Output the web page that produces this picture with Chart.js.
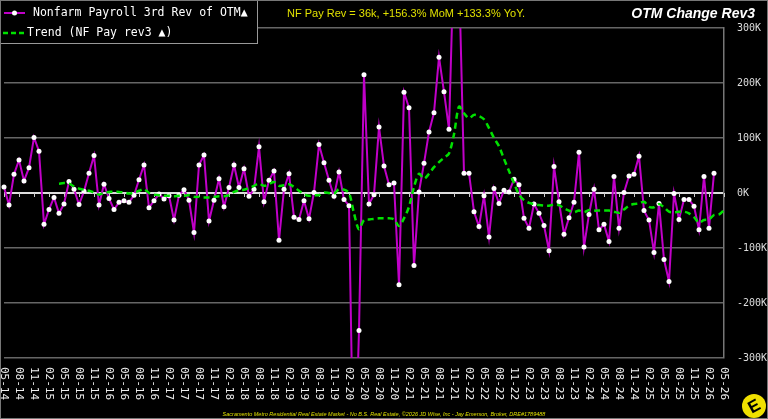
<!DOCTYPE html>
<html>
<head>
<meta charset="utf-8">
<title>OTM Change Rev3</title>
<script src="https://cdn.jsdelivr.net/npm/chart.js@4.4.1/dist/chart.umd.min.js"></script>
<style>
    html, body { margin: 0; padding: 0; background: #000; }
    canvas { display: block; }
</style>
</head>
<body>
<canvas id="otmChart" width="768" height="419"></canvas>
<script>
// Month categories (MM-YY)
const months = [
    '05-14','06-14','07-14','08-14','09-14','10-14','11-14','12-14',
    '01-15','02-15','03-15','04-15','05-15','06-15','07-15','08-15','09-15','10-15','11-15','12-15',
    '01-16','02-16','03-16','04-16','05-16','06-16','07-16','08-16','09-16','10-16','11-16','12-16',
    '01-17','02-17','03-17','04-17','05-17','06-17','07-17','08-17','09-17','10-17','11-17','12-17',
    '01-18','02-18','03-18','04-18','05-18','06-18','07-18','08-18','09-18','10-18','11-18','12-18',
    '01-19','02-19','03-19','04-19','05-19','06-19','07-19','08-19','09-19','10-19','11-19','12-19',
    '01-20','02-20','03-20','04-20','05-20','06-20','07-20','08-20','09-20','10-20','11-20','12-20',
    '01-21','02-21','03-21','04-21','05-21','06-21','07-21','08-21','09-21','10-21','11-21','12-21',
    '01-22','02-22','03-22','04-22','05-22','06-22','07-22','08-22','09-22','10-22','11-22','12-22',
    '01-23','02-23','03-23','04-23','05-23','06-23','07-23','08-23','09-23','10-23','11-23','12-23',
    '01-24','02-24','03-24','04-24','05-24','06-24','07-24','08-24','09-24','10-24','11-24','12-24',
    '01-25','02-25','03-25','04-25','05-25','06-25','07-25','08-25','09-25','10-25','11-25','12-25',
    '01-26','02-26','03-26','04-26','05-26'
];

// Nonfarm payroll 3rd revision of over-the-month change (K)
const payRev = [
    11, -22, 34, 60, 22, 46, 101, 76, -57, -30, -8, -37,
    -20, 21, 7, -21, 3, 36, 68, -22, 16, -10, -30, -17,
    -14, -17, -4, 24, 51, -27, -14, -2, -11, -5, -49, -4,
    6, -13, -72, 51, 69, -51, -13, 26, -25, 10, 51, 10,
    44, -6, 7, 84, -16, 23, 40, -86, 7, 35, -44, -48,
    -14, -47, 1, 88, 55, 23, -6, 38, -12, -23, -560, -250,
    215, -20, -3, 120, 49, 15, 18, -167, 183, 155, -132, 2,
    54, 111, 146, 247, 184, 116, 440, 400, 36, 36, -34, -61,
    -5, -80, 8, -19, 5, 2, 25, 15, -46, -64, -20, -37,
    -59, -105, 48, -16, -75, -45, -17, 74, -98, -39, 7, -67,
    -57, -88, 30, -64, 1, 31, 34, 67, -32, -49, -108, -19,
    -121, -161, -1, -48, -12, -12, -24, -67, 30, -64, 36
];

// Trend line (K)
const trend = [
    null, null, null, null, null, null, null, null, null, null, null, 17,
    18, 17, 12, 8, 6, 4, 1, -3, 0, 2, 2, 2,
    1, -1, 1, 4, 7, 0, -3, -4, -5, -5, -6, -5,
    -5, -4, -7, -7, -8, -8, -7, -6, -6, -4, 2, 5,
    6, 9, 13, 17, 13, 16, 20, 13, 14, 16, 11, 4,
    -2, -5, -4, -4, 1, 0, -1, 7, 6, 0, -37, -66,
    -49, -48, -47, -46, -46, -46, -48, -60, -46, -25, 11, 35,
    26, 35, 47, 56, 64, 72, 107, 157, 145, 136, 142, 140,
    134, 118, 100, 85, 62, 40, 18, -3, -13, -18, -20, -22,
    -23, -23, -21, -22, -28, -32, -35, -32, -35, -31, -32, -32,
    -32, -32, -34, -36, -30, -23, -20, -19, -16, -25, -26, -20,
    -26, -34, -35, -34, -34, -37, -44, -54, -49, -48, -40, -39,
    -31
];

const legendLabels = ['Nonfarm Payroll 3rd Rev of OTM\u25B2', 'Trend (NF Pay rev3 \u25B2)'];
const headline = 'NF Pay Rev = 36k, +156.3% MoM +133.3% YoY.';
const chartTitle = 'OTM Change Rev3';
const footer = 'Sacramento Metro Residential Real Estate Market - No B.S. Real Estate, \u00A92026 JD Wise, Inc - Jay Emerson, Broker, DRE#1789488';

const MAGENTA = '#c000c8';
const GREEN = '#00e000';
const YELLOW = '#e0e000';
const MONO = '"DejaVu Sans Mono", monospace';

// Background, tick marks, labels, legend and decorations
const decorations = {
    id: 'decorations',
    beforeDraw(chart) {
        const ctx = chart.ctx;
        ctx.save();
        ctx.fillStyle = '#000';
        ctx.fillRect(0, 0, chart.width, chart.height);
        ctx.restore();
    },
    beforeDatasetsDraw(chart) {
        // small tick marks under the zero line
        const ctx = chart.ctx;
        const xs = chart.scales.x;
        const y0 = chart.scales.y.getPixelForValue(0);
        ctx.save();
        ctx.strokeStyle = '#cccccc';
        ctx.lineWidth = 1;
        months.forEach(function(m, i) {
            if (i % 3 !== 0) return;
            const x = Math.round(xs.getPixelForValue(i)) + 0.5;
            ctx.beginPath();
            ctx.moveTo(x, y0);
            ctx.lineTo(x, y0 + 4);
            ctx.stroke();
        });
        ctx.restore();
    },
    afterDraw(chart) {
        const ctx = chart.ctx;
        const xs = chart.scales.x;
        const area = chart.chartArea;

        // x labels, rotated clockwise
        ctx.save();
        ctx.fillStyle = '#eeeeee';
        ctx.font = '11px ' + MONO;
        ctx.textAlign = 'left';
        ctx.textBaseline = 'middle';
        months.forEach(function(m, i) {
            if (i % 3 !== 0) return;
            ctx.save();
            ctx.translate(xs.getPixelForValue(i), area.bottom + 9);
            ctx.rotate(Math.PI / 2);
            ctx.fillText(m, 0, 0);
            ctx.restore();
        });
        ctx.restore();

        // legend box
        ctx.save();
        ctx.fillStyle = '#000';
        ctx.fillRect(0, 0, 257, 43);
        ctx.strokeStyle = '#999999';
        ctx.lineWidth = 1;
        ctx.strokeRect(0.5, 0.5, 257, 43);

        ctx.strokeStyle = MAGENTA;
        ctx.lineWidth = 2;
        ctx.beginPath();
        ctx.moveTo(4, 13);
        ctx.lineTo(25, 13);
        ctx.stroke();
        ctx.fillStyle = '#fff';
        ctx.beginPath();
        ctx.arc(14.5, 13, 2.5, 0, Math.PI * 2);
        ctx.fill();

        ctx.strokeStyle = GREEN;
        ctx.lineWidth = 2.5;
        ctx.setLineDash([5, 3]);
        ctx.beginPath();
        ctx.moveTo(3, 33);
        ctx.lineTo(26, 33);
        ctx.stroke();
        ctx.setLineDash([]);

        ctx.fillStyle = '#ffffff';
        ctx.font = '11.5px ' + MONO;
        ctx.textBaseline = 'middle';
        ctx.textAlign = 'left';
        ctx.fillText(legendLabels[0], 33, 13);
        ctx.fillText(legendLabels[1], 27, 33);
        ctx.restore();

        // headline and title
        ctx.save();
        ctx.textBaseline = 'middle';
        ctx.fillStyle = YELLOW;
        ctx.font = '11px "Liberation Sans", Arial, sans-serif';
        ctx.textAlign = 'left';
        ctx.fillText(headline, 287, 14);
        ctx.fillStyle = '#ffffff';
        ctx.font = 'italic bold 14px "Liberation Sans", Arial, sans-serif';
        ctx.textAlign = 'right';
        ctx.fillText(chartTitle, 755, 14);

        // footer
        ctx.fillStyle = YELLOW;
        ctx.font = 'italic 5.5px "Liberation Sans", Arial, sans-serif';
        ctx.textAlign = 'center';
        ctx.fillText(footer, 384, 414);
        ctx.restore();

        // logo, bottom right
        ctx.save();
        ctx.fillStyle = '#f0e000';
        ctx.beginPath();
        ctx.arc(754, 406, 12, 0, Math.PI * 2);
        ctx.fill();
        ctx.translate(754, 406);
        ctx.rotate(-0.5);
        ctx.fillStyle = '#000';
        ctx.font = 'bold 17px "Liberation Sans", Arial, sans-serif';
        ctx.textAlign = 'center';
        ctx.textBaseline = 'middle';
        ctx.fillText('E', 0, 1);
        ctx.restore();

        // outer frame
        ctx.save();
        ctx.strokeStyle = '#777777';
        ctx.lineWidth = 1;
        ctx.strokeRect(0.5, 0.5, chart.width - 1, chart.height - 1);
        ctx.restore();
    }
};

document.addEventListener('DOMContentLoaded', function() {
    const ctx = document.getElementById('otmChart').getContext('2d');

    new Chart(ctx, {
        type: 'line',
        data: {
            labels: months,
            datasets: [{
                label: legendLabels[0],
                data: payRev,
                borderColor: MAGENTA,
                borderWidth: 2,
                pointBackgroundColor: '#ffffff',
                pointBorderWidth: 0,
                pointRadius: 2.5,
                tension: 0,
                order: 2
            }, {
                label: legendLabels[1],
                data: trend,
                borderColor: GREEN,
                borderWidth: 2.5,
                borderDash: [6, 4],
                pointRadius: 0,
                tension: 0.3,
                order: 1
            }]
        },
        options: {
            responsive: false,
            animation: false,
            layout: {
                padding: { left: 2, right: 1, top: 28, bottom: 61 }
            },
            plugins: {
                legend: { display: false },
                tooltip: { enabled: false }
            },
            scales: {
                x: {
                    display: false
                },
                y: {
                    position: 'right',
                    min: -300,
                    max: 300,
                    afterFit: function(scale) {
                        scale.width = 43;
                    },
                    ticks: {
                        stepSize: 100,
                        padding: 13,
                        color: '#dddddd',
                        font: { family: 'DejaVu Sans Mono', size: 10 },
                        callback: function(value) {
                            return value + 'K';
                        }
                    },
                    grid: {
                        drawTicks: false,
                        color: function(c) {
                            return c.tick && c.tick.value === 0 ? '#dddddd' : '#666666';
                        },
                        lineWidth: function(c) {
                            return c.tick && c.tick.value === 0 ? 2 : 1.5;
                        }
                    },
                    border: {
                        color: '#777777',
                        width: 1.5
                    }
                }
            }
        },
        plugins: [decorations]
    });
});
</script>
</body>
</html>
